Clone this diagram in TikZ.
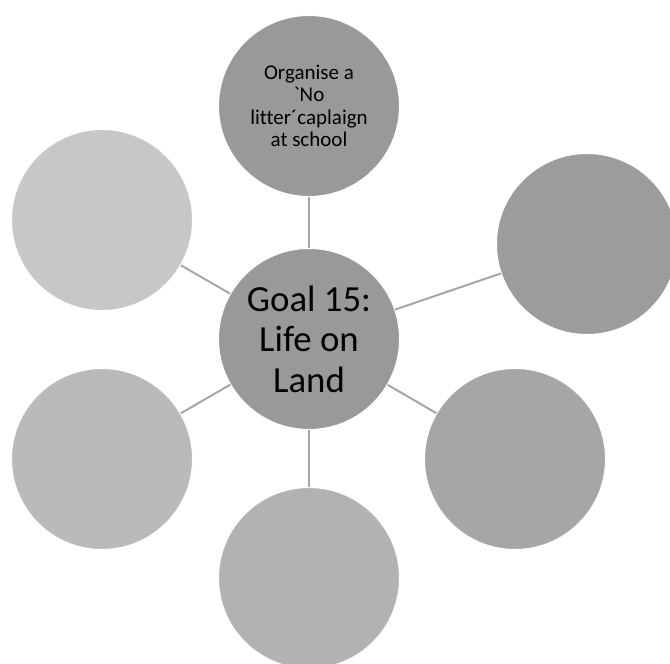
\documentclass[tikz,border=0pt]{standalone}
\usepackage{fontspec}
\setmainfont{Carlito}[Ligatures={TeXOff,NoCommon}]
\usepackage{tikz}
\usetikzlibrary{positioning}

\definecolor{hubgray}{HTML}{999999}
\definecolor{linkgray}{HTML}{A6A6A6}

\begin{document}
\begin{tikzpicture}[
  x=1pt, y=1pt,
  bubble/.style={
    circle, draw=white, line width=1pt,
    minimum size=181pt, inner sep=0pt,
    align=center
  },
  link/.style={draw=linkgray, line width=2pt}
]
\useasboundingbox (0,0) rectangle (670,664);

% centre
\node[bubble, fill=hubgray, font=\fontsize{36.8}{40.5}\selectfont] (goal) at (309,325) {
  Goal 15:\\ Life on\\ Land
};

% outer circles
\node[bubble, fill=hubgray, font=\fontsize{21}{22.5}\selectfont] (litter) at (309,558) {
  Organise a\\ `No\\ litter´caplaign\\ at school
};
\node[bubble, fill=black!39] (rightup) at (587,420) {};
\node[bubble, fill=black!35] (rightdown) at (515,205) {};
\node[bubble, fill=black!30] (bottom) at (309,86) {};
\node[bubble, fill=black!27] (leftdown) at (102,205) {};
\node[bubble, fill=black!22] (leftup) at (102,444) {};

% links
\draw[link] (goal) -- (litter);
\draw[link] (goal) -- (rightup);
\draw[link] (goal) -- (rightdown);
\draw[link] (goal) -- (bottom);
\draw[link] (goal) -- (leftdown);
\draw[link] (goal) -- (leftup);

\end{tikzpicture}
\end{document}
